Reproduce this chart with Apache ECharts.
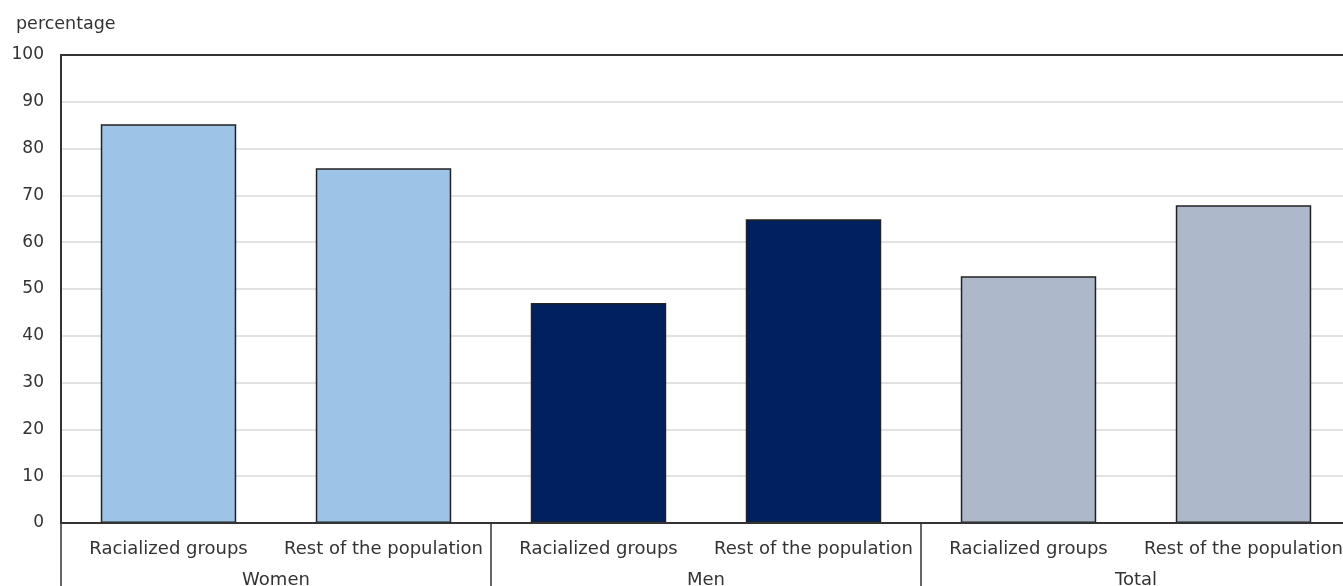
<!DOCTYPE html>
<html>
<head>
<meta charset="utf-8">
<script src="https://cdn.jsdelivr.net/npm/echarts@6/dist/echarts.min.js"></script>
<style>
html,body{margin:0;padding:0;background:#fff;}
#chart{width:1343px;height:586px;}
</style>
</head>
<body>
<div id="chart"></div>
<script>
var categories = ['Racialized groups', 'Rest of the population', 'Racialized groups', 'Rest of the population', 'Racialized groups', 'Rest of the population'];
var groups = ['Women', 'Men', 'Total'];
var values = [85.2, 75.8, 47.0, 64.9, 52.7, 67.9];
var groupOfBar = [0, 0, 1, 1, 2, 2];
var groupColors = ['#9DC3E6', '#002060', '#ADB9CA'];
var yTicks = [0, 10, 20, 30, 40, 50, 60, 70, 80, 90, 100];

var FONT = 'DejaVu Sans';
var chart = echarts.init(document.getElementById('chart'), null, {renderer: 'canvas'});

var barData = values.map(function (v, i) {
  return { value: v, itemStyle: { color: groupColors[groupOfBar[i]] } };
});

chart.setOption({
  animation: false,
  textStyle: { fontFamily: FONT },
  title: {
    text: 'percentage',
    left: 11, top: 10,
    textStyle: { fontFamily: FONT, fontSize: 17.5, fontWeight: 'normal', color: '#333' }
  },
  grid: {
    left: 61, top: 55, bottom: 63, width: 1290,
    outerBoundsMode: 'none', containLabel: false,
    show: false
  },
  xAxis: [
    {
      type: 'category',
      data: categories,
      position: 'bottom',
      z: 5,
      axisLine: { show: true, lineStyle: { color: '#333', width: 2 } },
      axisTick: { show: false },
      axisLabel: { interval: 0, margin: 17, fontSize: 18, color: '#333', fontFamily: FONT }
    },
    {
      type: 'category',
      data: groups,
      position: 'bottom',
      axisLine: { show: false },
      axisTick: { show: true, length: 70, lineStyle: { color: '#333', width: 1.5 } },
      axisLabel: { interval: 0, margin: 48, fontSize: 18, color: '#333', fontFamily: FONT }
    },
    {
      type: 'category',
      data: groups,
      position: 'top',
      z: 5,
      axisLine: { show: true, lineStyle: { color: '#333', width: 2 } },
      axisTick: { show: false },
      axisLabel: { show: false }
    }
  ],
  yAxis: {
    type: 'value',
    min: yTicks[0], max: yTicks[yTicks.length - 1], interval: 10,
    axisLine: { show: true, lineStyle: { color: '#333', width: 2 } },
    axisTick: { show: false },
    splitLine: { show: true, lineStyle: { color: '#d9d9d9', width: 1.5 } },
    axisLabel: { margin: 17, fontSize: 17, color: '#333', fontFamily: FONT }
  },
  series: [{
    type: 'bar',
    xAxisIndex: 0,
    data: barData,
    barWidth: '63%',
    itemStyle: { borderColor: '#222', borderWidth: 1.5 }
  }]
});
</script>
</body>
</html>
